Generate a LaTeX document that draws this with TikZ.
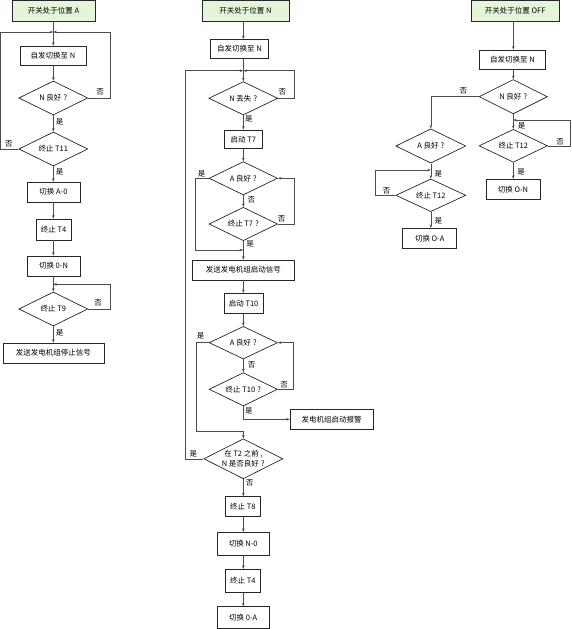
\documentclass[tikz,border=0pt]{standalone}
\usepackage{fontspec}
\setmainfont{Noto Sans CJK SC}
\usetikzlibrary{shapes.geometric,arrows.meta}
\definecolor{titlegreen}{RGB}{228,245,218}
\newcommand{\qm}{\hspace{2.2pt}?}
\begin{document}
\begin{tikzpicture}[x=1pt,y=-1pt,
  font=\fontsize{7.5}{9.5}\selectfont,
  box/.style={draw=black!85, line width=0.7pt, inner sep=0pt, align=center},
  titlebox/.style={box, fill=titlegreen},
  dia/.style={draw=black!85, line width=0.7pt, diamond, inner sep=0pt},
  txt/.style={inner sep=0pt, align=center},
  yn/.style={inner sep=0pt},
  line/.style={draw=black!70, line width=0.6pt},
  arr/.style={line, -{Stealth[length=3.5pt,width=2.6pt]}}]
\useasboundingbox (0,0) rectangle (571,629);

% ================= Column 1 =================
\coordinate (X1) at (53.3,0);
\node[titlebox, minimum width=83pt, minimum height=20.5pt] (tA) at (53.5,10.75) {开关处于位置 A};
\node[box, minimum width=66pt, minimum height=19pt] (b1) at (53,55.5) {自发切换至 N};
\node[dia, minimum width=69pt, minimum height=34pt] (d1) at (53.3,98) {};
\node[txt] (d1t) at (d1) {N 良好\qm};
\node[dia, minimum width=69pt, minimum height=34pt] (d2) at (53.3,149) {};
\node[txt] (d2t) at (d2) {终止 T11};
\node[box, minimum width=53pt, minimum height=20pt] (b2) at (53.5,192) {切换 A-0};
\node[box, minimum width=35pt, minimum height=21pt] (b3) at (53.5,229.5) {终止 T4};
\node[box, minimum width=53pt, minimum height=20pt] (b4) at (53.5,266) {切换 0-N};
\node[dia, minimum width=69pt, minimum height=34pt] (d3) at (53.3,309) {};
\node[txt] (d3t) at (d3) {终止 T9};
\node[box, minimum width=101pt, minimum height=20pt] (b5) at (53.5,353) {发送发电机组停止信号};

\coordinate (j1) at (53.3,32);
\coordinate (r1) at (110,32);
\coordinate (l1) at (0.8,32);
\coordinate (j3) at (53.3,284.3);
\coordinate (r3) at (110,284.3);

\draw[arr] (tA.south -| X1) -- (b1.north -| X1);
\draw[arr] (b1.south -| X1) -- (d1.north);
\draw[arr] (d1.east) -| (r1) -- (j1);
\draw[arr] (d1.south) -- (d2.north);
\draw[arr] (d2.west) -| (l1) -- (j1);
\draw[arr] (d2.south) -- (b2.north -| X1);
\draw[arr] (b2.south -| X1) -- (b3.north -| X1);
\draw[arr] (b3.south -| X1) -- (b4.north -| X1);
\draw[arr] (b4.south -| X1) -- (d3.north);
\draw[arr] (d3.east) -| (r3) -- (j3);
\draw[arr] (d3.south) -- (b5.north -| X1);

\node[yn] (n1a) at (100,92) {否};
\node[yn] (n1b) at (59.5,122) {是};
\node[yn] (n1c) at (9,144) {否};
\node[yn] (n1d) at (59.5,172) {是};
\node[yn] (n1e) at (98,303) {否};
\node[yn] (n1f) at (59.5,333) {是};

% ================= Column 2 =================
\coordinate (X2) at (243.3,0);
\node[titlebox, minimum width=87pt, minimum height=20.5pt] (tN) at (245.5,10.75) {开关处于位置 N};
\node[box, minimum width=57.6pt, minimum height=19pt] (c1) at (239.5,49) {自发切换至 N};
\node[dia, minimum width=69pt, minimum height=33.3pt] (e1) at (243.3,98.3) {};
\node[txt] (e1t) at (e1) {N 丢失\qm};
\node[box, minimum width=38.7pt, minimum height=18.5pt] (c2) at (243.3,139.2) {启动 T7};
\node[dia, minimum width=68.4pt, minimum height=33.3pt] (e2) at (243.3,178.3) {};
\node[txt] (e2t) at (e2) {A 良好\qm};
\node[dia, minimum width=68.4pt, minimum height=33.4pt] (e3) at (243.3,224) {};
\node[txt] (e3t) at (e3) {终止 T7\qm};
\node[box, minimum width=101.3pt, minimum height=20pt] (c3) at (243.3,270) {发送发电机组启动信号};
\node[box, minimum width=39.3pt, minimum height=20pt] (c4) at (243.6,303.3) {启动 T10};
\node[dia, minimum width=68.4pt, minimum height=32.6pt] (e4) at (243.3,342.7) {};
\node[txt] (e4t) at (e4) {A 良好\qm};
\node[dia, minimum width=68.4pt, minimum height=33.3pt] (e5) at (243.3,389.3) {};
\node[txt] (e5t) at (e5) {终止 T10\qm};
\node[box, minimum width=83.3pt, minimum height=20pt] (al) at (331.7,419.3) {发电机组启动报警};
\node[dia, minimum width=79pt, minimum height=40pt] (e6) at (243.3,458.8) {};
\node[txt, font=\fontsize{7.5}{10}\selectfont] (e6t) at (e6) {在 T2 之前\hspace{1.5pt},\\N 是否良好\qm};
\node[box, minimum width=34.3pt, minimum height=20pt] (c5) at (242.9,506.7) {终止 T8};
\node[box, minimum width=51.7pt, minimum height=22.7pt] (c6) at (243.2,543.7) {切换 N-0};
\node[box, minimum width=34.3pt, minimum height=23.4pt] (c7) at (242.9,581) {终止 T4};
\node[box, minimum width=51.7pt, minimum height=21.6pt] (c8) at (243.2,617.5) {切换 0-A};

\coordinate (j4) at (243.3,70.7);
\coordinate (r4) at (294,70.7);
\coordinate (l4) at (185,70.7);
\coordinate (l5) at (195.7,250);
\coordinate (j5) at (243.3,250);
\coordinate (r6) at (294,178.3);
\coordinate (l7) at (196.7,431);
\coordinate (j7) at (243.3,431);
\coordinate (r8) at (293.3,342.7);
\coordinate (k9) at (243.3,419.3);

\draw[arr] (tN.south -| X2) -- (c1.north -| X2);
\draw[arr] (c1.south -| X2) -- (e1.north);
\draw[arr] (e1.east) -| (r4) -- (j4);
\draw[arr] (e6.west) -| (l4) -- (j4);
\draw[arr] (e1.south) -- (c2.north -| X2);
\draw[arr] (c2.south -| X2) -- (e2.north);
\draw[arr] (e2.south) -- (e3.north);
\draw[arr] (e2.west) -| (l5) -- (j5);
\draw[arr] (e3.east) -| (r6) -- (e2.east);
\draw[arr] (e3.south) -- (c3.north -| X2);
\draw[arr] (c3.south -| X2) -- (c4.north -| X2);
\draw[arr] (c4.south -| X2) -- (e4.north);
\draw[arr] (e4.south) -- (e5.north);
\draw[arr] (e4.west) -| (l7) -- (j7) -- (e6.north);
\draw[arr] (e5.east) -| (r8) -- (e4.east);
\draw[arr] (e5.south) -- (k9) -- (al.west);
\draw[arr] (e6.south) -- (c5.north -| X2);
\draw[arr] (c5.south -| X2) -- (c6.north -| X2);
\draw[arr] (c6.south -| X2) -- (c7.north -| X2);
\draw[arr] (c7.south -| X2) -- (c8.north -| X2);

\node[yn] (n2a) at (282.3,92.3) {否};
\node[yn] (n2b) at (248.8,119) {是};
\node[yn] (n2c) at (201.7,174) {是};
\node[yn] (n2d) at (251.3,200) {否};
\node[yn] (n2e) at (281.7,219) {否};
\node[yn] (n2f) at (250,244.3) {是};
\node[yn] (n2g) at (200.7,336) {是};
\node[yn] (n2h) at (251.7,365) {否};
\node[yn] (n2i) at (284,385) {否};
\node[yn] (n2j) at (248.8,411) {是};
\node[yn] (n2k) at (193.3,454.3) {是};
\node[yn] (n2l) at (249.5,483.3) {否};

% ================= Column 3 =================
\coordinate (X3) at (513.3,0);
\node[titlebox, minimum width=88.3pt, minimum height=20.5pt] (tO) at (515.2,10.75) {开关处于位置 OFF};
\node[box, minimum width=66.4pt, minimum height=19pt] (f1) at (512.5,59.5) {自发切换至 N};
\node[dia, minimum width=68.4pt, minimum height=34.3pt] (g1) at (513.3,96.7) {};
\node[txt] (g1t) at (g1) {N 良好\qm};
\node[dia, minimum width=68.4pt, minimum height=33pt] (g3) at (513.3,145.8) {};
\node[txt] (g3t) at (g3) {终止 T12};
\node[box, minimum width=54pt, minimum height=20pt] (f2) at (513,189.3) {切换 O-N};
\node[dia, minimum width=70pt, minimum height=34.3pt] (g2) at (430.8,146) {};
\node[txt] (g2t) at (g2) {A 良好\qm};
\node[dia, minimum width=70pt, minimum height=32.7pt] (g4) at (430.8,195.3) {};
\node[txt] (g4t) at (g4) {终止 T12};
\node[box, minimum width=54pt, minimum height=20pt] (f3) at (429.7,238.3) {切换 O-A};

\coordinate (j10) at (513.3,120);
\coordinate (r10) at (570.2,120);
\coordinate (j11) at (430.8,170);
\coordinate (l11) at (375,170);

\draw[arr] (tO.south -| X3) -- (f1.north -| X3);
\draw[arr] (f1.south -| X3) -- (g1.north);
\draw[arr] (g1.west) -| (g2.north);
\draw[arr] (g1.south) -- (g3.north);
\draw[arr] (g3.east) -| (r10) -- (j10);
\draw[arr] (g3.south) -- (f2.north -| X3);
\draw[arr] (g2.south) -- (g4.north);
\draw[arr] (g4.west) -| (l11) -- (j11);
\draw[arr] (g4.south) -- (f3.north -| g4.south);

\node[yn] (n3a) at (463.3,90.7) {否};
\node[yn] (n3b) at (521.7,126) {是};
\node[yn] (n3c) at (560,141.7) {否};
\node[yn] (n3d) at (521,172.3) {是};
\node[yn] (n3e) at (438.3,174.3) {是};
\node[yn] (n3f) at (386.7,191) {否};
\node[yn] (n3g) at (438.3,221) {是};
\end{tikzpicture}
\end{document}
